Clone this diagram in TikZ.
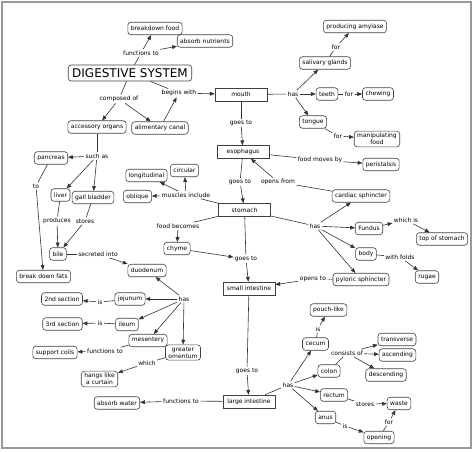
\documentclass[tikz,border=0pt]{standalone}
\usepackage{fontspec}
\setmainfont{DejaVu Sans}
\usetikzlibrary{arrows.meta}

\tikzset{
  concept/.style={draw=black!75, rounded corners=3pt, line width=0.6pt, inner xsep=3pt, inner ysep=2pt, minimum height=12.5pt, font=\fontsize{6}{7}\selectfont, align=center},
  organ/.style={draw=black!75, line width=0.6pt, minimum width=52pt, minimum height=13pt, inner ysep=2pt, font=\fontsize{6}{7}\selectfont},
  link/.style={inner sep=1.2pt, font=\fontsize{6}{7}\selectfont},
}

\begin{document}
\begin{tikzpicture}[x=1pt,y=-1pt,>={Triangle[length=4.8pt,width=3.8pt]},line width=0.6pt,draw=black!80]
\useasboundingbox (0,0) rectangle (474,451);
\draw[black!40,line width=2pt] (1.5,2) rectangle (471,447.5);

% concepts
\node[concept,font=\fontsize{12}{14}\selectfont,inner xsep=4pt,minimum height=16pt] (ds) at (130,73) {DIGESTIVE SYSTEM};
\node[concept] (bfood) at (155,28.5) {breakdown food};
\node[concept] (absorbn) at (205,41) {absorb nutrients};
\node[concept] (accorg) at (97,127) {accessory organs};
\node[concept] (alican) at (160,128) {alimentary canal};
\node[concept] (amylase) at (355,26.5) {producing amylase};
\node[concept] (saliv) at (325,63) {salivary glands};
\node[concept] (teeth) at (327,94) {teeth};
\node[concept] (chewing) at (378,94) {chewing};
\node[concept] (tongue) at (313,122) {tongue};
\node[concept] (manip) at (377,139) {manipulating\\food};
\node[concept] (peri) at (381,164.5) {peristalsis};
\node[concept] (cardiac) at (361,196) {cardiac sphincter};
\node[concept] (fundus) at (369,228.5) {Fundus};
\node[concept] (topst) at (442,239) {top of stomach};
\node[concept] (body) at (366,254) {body};
\node[concept] (rugae) at (427,277) {rugae};
\node[concept] (pyloric) at (361,279.5) {pyloric sphincter};
\node[concept] (pancreas) at (51,158) {pancreas};
\node[concept] (liver) at (60.5,195) {liver};
\node[concept] (gallb) at (93,197.5) {gall bladder};
\node[concept] (bile) at (58,254) {bile};
\node[concept] (bdfats) at (43.5,276.5) {break down fats};
\node[concept] (longi) at (146.5,175.5) {longitudinal};
\node[concept] (circ) at (184.5,170.5) {circular};
\node[concept] (obli) at (137.5,196.5) {oblique};
\node[concept] (chyme) at (177,248.5) {chyme};
\node[concept] (duod) at (147,270.5) {duodenum};
\node[concept] (jeju) at (130,299) {jejunum};
\node[concept] (sec2) at (62,299) {2nd section};
\node[concept] (ileum) at (127,324.5) {ileum};
\node[concept] (sec3) at (62.5,324) {3rd section};
\node[concept] (mesen) at (148,340.5) {mesentery};
\node[concept] (omen) at (183,352.5) {greater\\omentum};
\node[concept] (support) at (55,352.5) {support coils};
\node[concept] (hangs) at (99.5,379) {hangs like\\a curtain};
\node[concept] (absw) at (117,403) {absorb water};
\node[concept] (pouch) at (328.5,310) {pouch-like};
\node[concept] (cecum) at (315.5,344) {cecum};
\node[concept] (colon) at (329,371) {colon};
\node[concept] (transv) at (397,339.5) {transverse};
\node[concept] (ascen) at (397.5,355) {ascending};
\node[concept] (descen) at (386,375) {descending};
\node[concept] (rectum) at (334,395) {rectum};
\node[concept] (waste) at (399,403.5) {waste};
\node[concept] (anus) at (325.5,417.5) {anus};
\node[concept] (opening) at (379,437.5) {opening};

% the canal itself
\node[organ] (mouth) at (241,94.5) {mouth};
\node[organ] (esoph) at (243,152) {esophagus};
\node[organ] (stomach) at (244.5,210) {stomach};
\node[organ] (smallint) at (249,288.5) {small intestine};
\node[organ] (largeint) at (249,401.5) {large intestine};

% linking phrases
\node[link] (l_func1) at (141,53) {functions to};
\node[link] (l_begins) at (179,93) {begins with};
\node[link] (l_comp) at (119,99) {composed of};
\node[link] (l_for1) at (336,47) {for};
\node[link] (l_has1) at (293,94) {has};
\node[link] (l_for2) at (349,94) {for};
\node[link] (l_for3) at (338,136) {for};
\node[link] (l_goes1) at (241,123) {goes to};
\node[link] (l_moves) at (320,160) {food moves by};
\node[link] (l_goes2) at (240,182) {goes to};
\node[link] (l_opfrom) at (278,182) {opens from};
\node[link] (l_has2) at (315,226) {has};
\node[link] (l_which) at (406,220) {which is};
\node[link] (l_folds) at (400,257) {with folds};
\node[link] (l_opto) at (313,279) {opens to};
\node[link] (l_goes3) at (246,259) {goes to};
\node[link] (l_becomes) at (178,226) {food becomes};
\node[link] (l_muscles) at (186,195) {muscles include};
\node[link] (l_such) at (97,156) {such as};
\node[link] (l_to) at (36,186) {to};
\node[link] (l_prod) at (57,221) {produces};
\node[link] (l_stores1) at (85,221) {stores};
\node[link] (l_secr) at (98,254) {secreted into};
\node[link] (l_has3) at (184,299) {has};
\node[link] (l_is1) at (100,302) {is};
\node[link] (l_is2) at (100,323) {is};
\node[link] (l_func2) at (105,351) {functions to};
\node[link] (l_which2) at (147,363) {which};
\node[link] (l_func3) at (181,401) {functions to};
\node[link] (l_goes4) at (247,371) {goes to};
\node[link] (l_has4) at (288,385) {has};
\node[link] (l_is3) at (318,329) {is};
\node[link] (l_cons) at (347,353) {consists of};
\node[link] (l_stores2) at (365,404) {stores};
\node[link] (l_is4) at (345,426) {is};
\node[link] (l_for4) at (389,422) {for};

% concept to phrase
\path[draw]
  (ds) edge (l_func1) (ds) edge (l_begins) (ds) edge (l_comp)
  (mouth) edge (l_has1) (saliv) edge (l_for1) (teeth) edge (l_for2)
  (tongue) edge (l_for3) (mouth) edge (l_goes1) (esoph) edge (l_moves)
  (esoph) edge (l_goes2) (cardiac) edge (l_opfrom) (stomach) edge (l_has2)
  (body) edge (l_folds) (pyloric) edge (l_opto) (stomach) edge (l_goes3)
  (stomach) edge (l_becomes) (stomach) edge (l_muscles)
  (accorg) edge (l_such) (pancreas) edge (l_to) (liver) edge (l_prod)
  (gallb) edge (l_stores1) (bile) edge (l_secr)
  (jeju) edge (l_is1) (ileum) edge (l_is2) (mesen) edge (l_func2)
  (omen) edge (l_which2) (largeint) edge (l_func3) (smallint) edge (l_goes4)
  (largeint) edge (l_has4) (cecum) edge (l_is3) (colon) edge (l_cons)
  (rectum) edge (l_stores2) (anus) edge (l_is4) (opening) edge (l_for4);

% phrase to concept
\path[->,draw]
  (l_func1) edge (bfood) (l_func1) edge (absorbn)
  (alican) edge (l_begins) (l_begins) edge (mouth)
  (l_comp) edge (accorg) (l_comp) edge (alican)
  (l_has1) edge (saliv) (l_has1) edge (teeth) (l_has1) edge (tongue)
  (l_for1) edge (amylase) (l_for2) edge (chewing) (l_for3) edge (manip)
  (l_goes1) edge (esoph) (l_moves) edge (peri) (l_goes2) edge (stomach)
  (l_opfrom) edge (esoph)
  (l_has2) edge (cardiac) (l_has2) edge (fundus) (l_has2) edge (body) (l_has2) edge (pyloric)
  (fundus) edge (l_which) (l_which) edge (topst) (l_folds) edge (rugae)
  (l_opto) edge (smallint) (l_goes3) edge (smallint) (chyme) edge (l_goes3)
  (l_becomes) edge (chyme)
  (l_muscles) edge (longi) (l_muscles) edge (circ) (l_muscles) edge (obli)
  (l_such) edge (pancreas) (l_such) edge (liver) (l_such) edge (gallb)
  (l_to) edge (bdfats) (l_prod) edge (bile) (l_stores1) edge (bile)
  (l_secr) edge (duod)
  (l_has3) edge (duod) (l_has3) edge (jeju) (l_has3) edge (ileum)
  (l_has3) edge (mesen) (l_has3) edge (omen)
  (l_is1) edge (sec2) (l_is2) edge (sec3) (l_func2) edge (support)
  (l_which2) edge (hangs) (l_func3) edge (absw) (l_goes4) edge (largeint)
  (l_has4) edge (cecum) (l_has4) edge (colon) (l_has4) edge (rectum) (l_has4) edge (anus)
  (l_is3) edge (pouch)
  (l_cons) edge (transv) (l_cons) edge (ascen) (l_cons) edge (descen)
  (l_stores2) edge (waste) (l_is4) edge (opening) (l_for4) edge (waste);
\end{tikzpicture}
\end{document}
